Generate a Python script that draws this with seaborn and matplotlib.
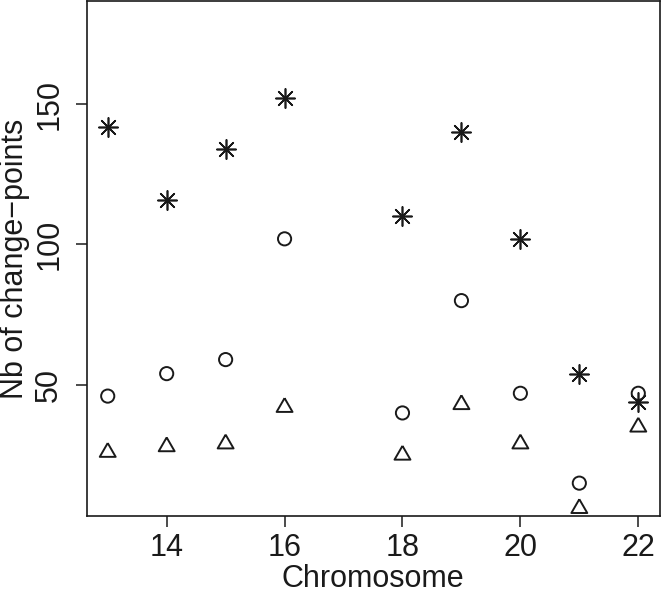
import numpy as np
import pandas as pd
import matplotlib
matplotlib.use("Agg")
import matplotlib.pyplot as plt
import seaborn as sns

# ---- data ----
chromosome = [13, 14, 15, 16, 18, 19, 20, 21, 22]
series_star = [142, 116, 134, 152, 110, 140, 102, 54, 44]
series_circle = [46, 54, 59, 102, 40, 80, 47, 15, 47]
series_triangle = [26, 28, 29, 42, 25, 43, 29, 6, 35]
x_ticks = [14, 16, 18, 20, 22]
y_ticks = [50, 100, 150]

sns.set_theme(style="white")
plt.rcParams['font.family'] = ['Liberation Sans', 'DejaVu Sans']

df = pd.DataFrame({
    "Chromosome": chromosome * 3,
    "value": series_star + series_circle + series_triangle,
    "series": ["star"] * 9 + ["circle"] * 9 + ["triangle"] * 9,
})

fig = plt.figure(figsize=(6.64, 5.93), dpi=100)
ax = fig.add_axes([86.5 / 664, 1 - 516 / 593, (659.5 - 86.5) / 664, (516 - 1) / 593])

ink = "#1a1a1a"
star_marker = (8, 2, 0)
tri_marker = [(0, 1), (-0.866, -0.5), (0.866, -0.5), (0, 1)]

sns.scatterplot(data=df[df.series == "star"], x="Chromosome", y="value", ax=ax,
                marker=star_marker, s=190, color=ink, linewidth=1.2, legend=False)
sns.scatterplot(data=df[df.series == "circle"], x="Chromosome", y="value", ax=ax,
                marker="o", s=90, facecolors="none", edgecolors=ink, linewidth=1.4, legend=False)
sns.scatterplot(data=df[df.series == "triangle"], x="Chromosome", y="value", ax=ax,
                marker=tri_marker, s=175, facecolors="none", edgecolors=ink, linewidth=1.4, legend=False)

ax.set_xlim(12.64, 22.36)
ax.set_ylim(3.3, 186.7)
ax.set_xticks(x_ticks)
ax.set_yticks(y_ticks)
ax.set_xticklabels([str(t) for t in x_ticks])
ax.set_yticklabels([str(t) for t in y_ticks], rotation=90, va="center")

for sp in ax.spines.values():
    sp.set_visible(True)
    sp.set_color(ink)
    sp.set_linewidth(1.2)

ax.tick_params(axis="both", which="both", direction="out", length=8, width=1.1,
               color=ink, labelsize=22, labelcolor=ink, bottom=True, left=True)
ax.tick_params(axis="x", pad=4)
ax.tick_params(axis="y", pad=8)

ax.set_xlabel("Chromosome", fontsize=22, color=ink, labelpad=1)
ax.set_ylabel("Nb of change\u2212points", fontsize=22, color=ink, labelpad=3)

fig.savefig("out.png", dpi=100, facecolor="white")
